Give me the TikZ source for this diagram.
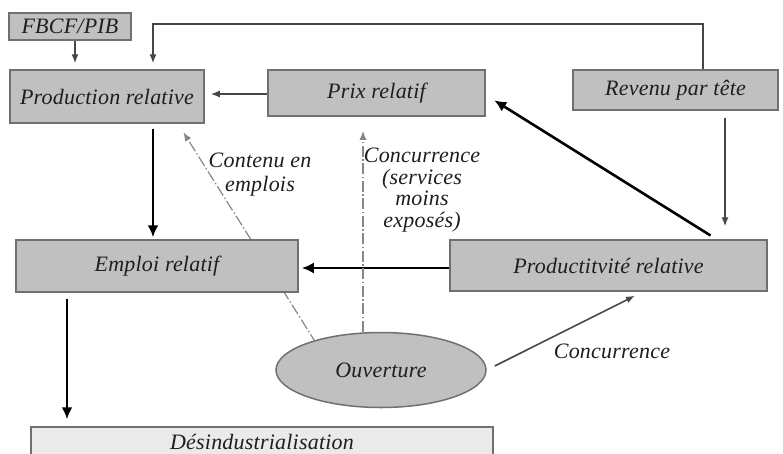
\documentclass[tikz,border=0pt]{standalone}
\usepackage{fontspec}
\setmainfont{Liberation Serif}[LetterSpace=1]
\usetikzlibrary{arrows.meta,shapes.geometric,backgrounds}
\definecolor{cbebebe}{RGB}{192,192,192}
\definecolor{c707070}{RGB}{112,112,112}
\definecolor{ce8e8e8}{RGB}{234,234,234}
\definecolor{c8c8c8c}{RGB}{135,135,135}
\definecolor{c505050}{RGB}{70,70,70}
\definecolor{c222222}{RGB}{30,30,30}
\tikzset{thinarrow/.style={draw, -{Latex[length=9pt,width=7pt]},line width=1.3pt,color=c505050},
thickarrow/.style={draw, -{Latex[length=12pt,width=11pt]},line width=2.6pt,color=black},
dasharrow/.style={draw, -{Latex[length=9pt,width=7pt]},line width=1.2pt,color=c8c8c8c,
dash pattern=on 11pt off 2.5pt on 1.5pt off 2.5pt}}

\begin{document}
\begin{tikzpicture}[x=1pt,y=-1pt]
\useasboundingbox (0,0) rectangle (783,453);
\begin{scope}[every node/.style={draw=c707070,fill=cbebebe,line width=1.5pt,
inner sep=0pt,text=c222222,font=\itshape\fontsize{22}{24}\selectfont}]
\node[minimum width=122pt,minimum height=27pt] (fbcf) at (70,26.5) {FBCF/PIB};
\node[minimum width=194pt,minimum height=53pt] (prod) at (107,96.5) {Production relative};
\node[minimum width=217pt,minimum height=46pt] (prix) at (376.5,93) {Prix relatif};
\node[minimum width=205pt,minimum height=40pt] (rev) at (675.5,90) {Revenu par tête};
\node[minimum width=317pt,minimum height=51pt] (pdt) at (608.5,265.5) {Productitvité relative};
\node[minimum width=282pt,minimum height=52pt] (emploi) at (157,266) {Emploi relatif};
\node[fill=ce8e8e8,minimum width=462pt,minimum height=30pt] (desind) at (262,442) {Désindustrialisation};
\node[ellipse,minimum width=210pt,minimum height=75pt] (ouv) at (381,370) {Ouverture};
\end{scope}

\coordinate (top) at (0,24);
\path[thinarrow, shorten >=6pt] ([xshift=5pt]fbcf.south) -- ([xshift=5pt]fbcf.south |- prod.north);
\path[thinarrow, shorten >=6pt] ([xshift=27.5pt]rev.north) |- ([xshift=46pt]prod.north |- top) -- ([xshift=46pt]prod.north);
\path[thinarrow, shorten >=6pt] ([yshift=-1pt]prix.west) -- ([yshift=-1pt]prix.west -| prod.east);
\path[thinarrow, shorten <=7pt, shorten >=13pt] ([xshift=49.5pt]rev.south) -- ([xshift=49.5pt]rev.south |- pdt.north);
\path[thickarrow, shorten <=7pt, shorten >=10pt] ([xshift=108pt]pdt.north) -- ([yshift=-2pt]prix.east);
\path[thickarrow, shorten >=3pt] ([yshift=-2.5pt]pdt.west) -- ([yshift=-2.5pt]pdt.west -| emploi.east);
\path[thickarrow, shorten <=5pt, shorten >=2pt] ([xshift=46pt]prod.south) -- ([xshift=46pt]prod.south |- emploi.north);
\path[thickarrow, shorten <=6pt, shorten >=7pt] ([xshift=-90pt]emploi.south) -- ([xshift=-90pt]emploi.south |- desind.north);
\path[dasharrow, shorten >=14pt] ([xshift=-18pt]ouv.north) -- ([xshift=-13.5pt]prix.south);
\path[thinarrow, line width=1.6pt, shorten <=9pt, shorten >=9pt] (ouv.east) -- ([xshift=34.5pt]pdt.south);
\begin{pgfonlayer}{background}
\path[dasharrow, shorten <=-4pt, shorten >=10pt] (ouv.156) -- ([xshift=71pt]prod.south);
\end{pgfonlayer}

\begin{scope}[every node/.style={align=center,inner sep=0pt,text=c222222,font=\itshape\fontsize{22}{24}\selectfont}]
\node (contenu) at (260,174.5) {Contenu en\\emplois};
\node[font=\itshape\fontsize{22}{21.5}\selectfont] (concsvc) at (422,190) {Concurrence\\(services\\moins\\exposés)};
\node (conc) at (612,351) {Concurrence};
\end{scope}

\end{tikzpicture}
\end{document}
